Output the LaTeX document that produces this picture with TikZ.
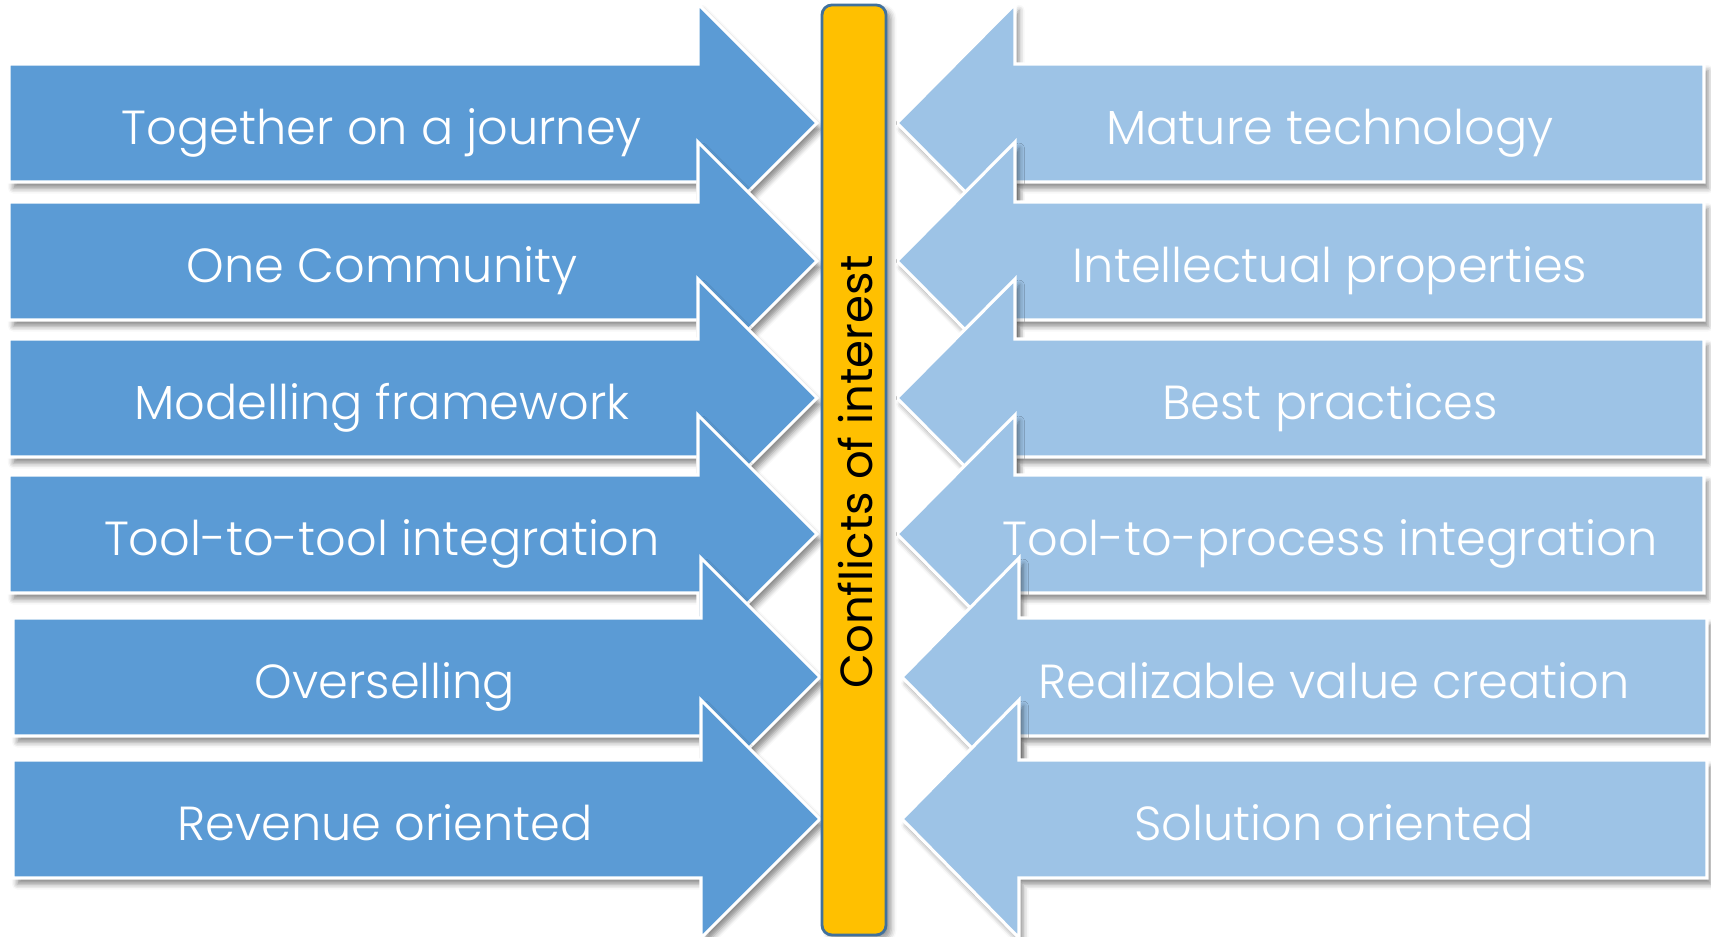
\documentclass[tikz,border=0pt]{standalone}
\usepackage{fontspec}
\setmainfont{Poppins Light}
\newfontfamily\barfont{Poppins}
\usetikzlibrary{shadows.blur}
\definecolor{leftblue}{HTML}{5B9BD5}
\definecolor{rightblue}{HTML}{9DC3E6}
\definecolor{baryellow}{HTML}{FFC000}
\definecolor{barline}{HTML}{41719C}

\begin{document}
\begin{tikzpicture}[x=0.01cm,y=-0.01cm,
    arrowshape/.style={draw=white,line width=0.9pt,
      blur shadow={shadow xshift=1.2pt,shadow yshift=-1.8pt,shadow blur radius=1.5pt,shadow opacity=45}},
    rowlabel/.style={text=white,font=\fontsize{13.6}{15}\selectfont,anchor=base},
    barlabel/.style={text=black,font=\barfont\fontsize{12.8}{14}\selectfont,anchor=base,rotate=90}]
\useasboundingbox (0,0) rectangle (1711,937);

% pushing from the left
\foreach \c/\l/\b/\t in {123/9/698/817,261/9/698/817,398/9/698/817,534/9/698/817,677/13/701/820,819/13/701/820}
  {\filldraw[arrowshape,fill=leftblue] (\l,\c-59) -- (\b,\c-59) -- (\b,\c-119) -- (\t,\c)
     -- (\b,\c+119) -- (\b,\c+59) -- (\l,\c+59) -- cycle;}

% pushing from the right
\foreach \c/\r/\b/\t in {123/1704/1015/897,261/1704/1015/897,398/1704/1015/897,534/1704/1015/897,677/1707/1019/902,819/1707/1019/902}
  {\filldraw[arrowshape,fill=rightblue] (\r,\c-59) -- (\b,\c-59) -- (\b,\c-119) -- (\t,\c)
     -- (\b,\c+119) -- (\b,\c+59) -- (\r,\c+59) -- cycle;}

% the bar in between
\filldraw[fill=baryellow,draw=barline,line width=0.8pt,rounded corners=2.8pt,
  blur shadow={shadow xshift=1.5pt,shadow yshift=-1.2pt,shadow blur radius=1.5pt,shadow opacity=40}]
  (822,5) rectangle (886,935);
\node[barlabel] (conflicts) at (872,472) {Conflicts of interest};

\foreach \n/\c/\x/\txt in {a/123/382/Together on a journey,b/261/382/One Community,
    c/398/382/Modelling framework,d/534/382/Tool-to-tool integration,
    e/677/385/Overselling,f/819/385/Revenue oriented}
  {\node[rowlabel] (left\n) at (\x,\c+22) {\txt};}

\foreach \n/\c/\x/\txt in {a/123/1330/Mature technology,b/261/1330/Intellectual properties,
    c/398/1330/Best practices,d/534/1330/Tool-to-process integration,
    e/677/1334/Realizable value creation,f/819/1334/Solution oriented}
  {\node[rowlabel] (right\n) at (\x,\c+22) {\txt};}
\end{tikzpicture}
\end{document}
